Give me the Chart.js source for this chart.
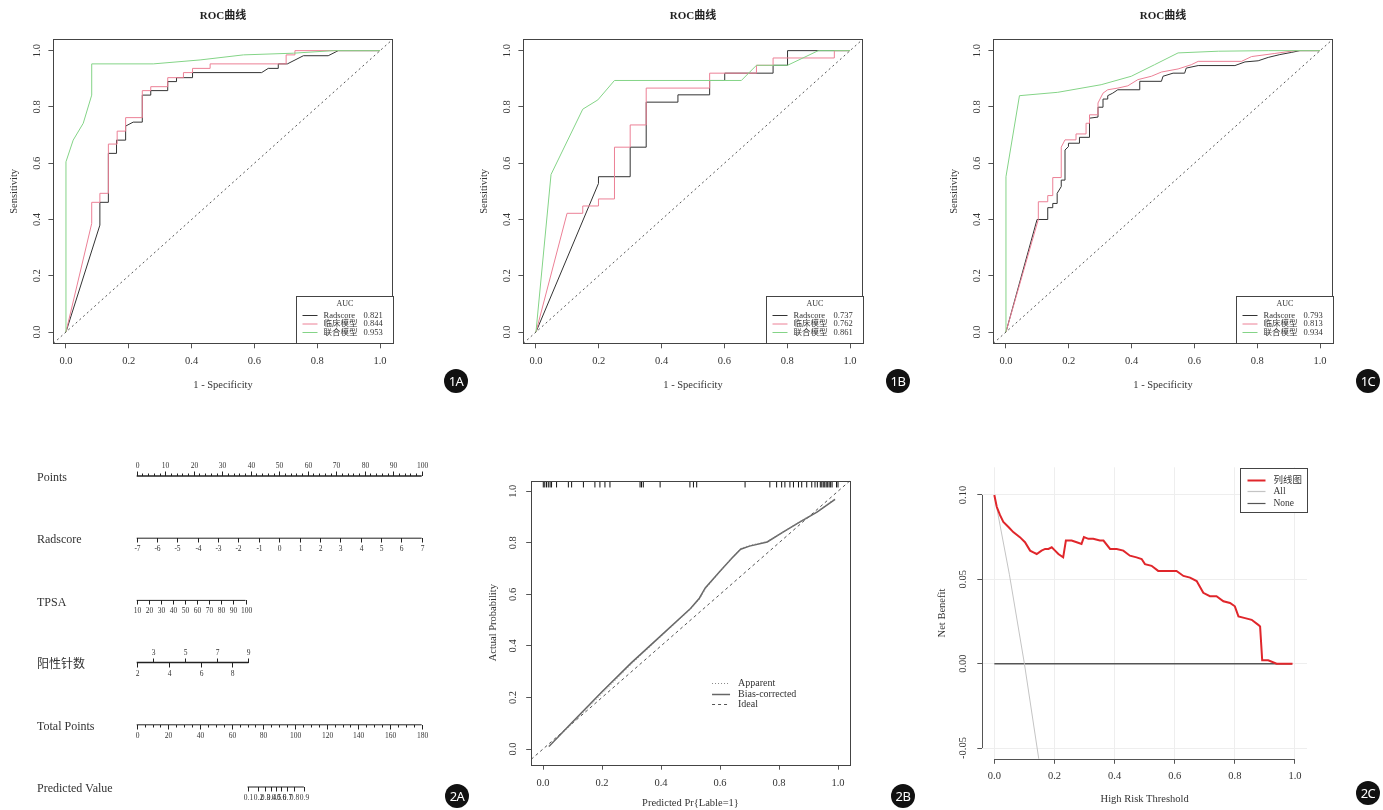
<!DOCTYPE html>
<html lang="zh">
<head>
<meta charset="utf-8">
<title>ROC / Nomogram / Calibration / DCA</title>
<script src="https://cdn.jsdelivr.net/npm/chart.js@4.4.1/dist/chart.umd.min.js"></script>
<style>
  body { margin: 0; width: 1383px; height: 810px; overflow: hidden; background: #fff; position: relative; }
  canvas { position: absolute; }
  .tag { position: absolute; width: 24px; height: 24px; margin: -12px 0 0 -12px; border-radius: 50%; background: #111; color: #fff;
         font: 13px "Noto Sans", sans-serif; line-height: 24px; text-align: center; letter-spacing: -0.5px; }
</style>
</head>
<body>
<canvas id="rocA" width="470" height="400" style="left:0;top:0"></canvas>
<canvas id="rocB" width="470" height="400" style="left:470px;top:0"></canvas>
<canvas id="rocC" width="443" height="400" style="left:940px;top:0"></canvas>
<canvas id="nomo" width="470" height="370" style="left:0;top:440px"></canvas>
<canvas id="calib" width="450" height="370" style="left:470px;top:440px"></canvas>
<canvas id="dca" width="463" height="370" style="left:920px;top:440px"></canvas>
<div class="tag" style="left:456px;top:381px">1A</div>
<div class="tag" style="left:898px;top:381px">1B</div>
<div class="tag" style="left:1368px;top:381px">1C</div>
<div class="tag" style="left:457px;top:796px">2A</div>
<div class="tag" style="left:903px;top:796px">2B</div>
<div class="tag" style="left:1368px;top:793px">2C</div>
<script>
// ---- ROC data (1 - specificity, sensitivity) ----
const rocNames = ['Radscore', '临床模型', '联合模型'];
const rocColors = ['#333333', '#ec8096', '#84d487'];
const unitTicks = [0, 0.2, 0.4, 0.6, 0.8, 1.0];
const rocLim = [-0.04, 1.04];

const radscoreA = [[0,0],[0.108,0.38],[0.108,0.461],[0.135,0.461],[0.135,0.635],[0.161,0.635],[0.161,0.682],[0.19,0.682],[0.19,0.732],[0.214,0.746],[0.243,0.746],[0.243,0.842],[0.27,0.842],[0.27,0.858],[0.324,0.858],[0.324,0.89],[0.352,0.89],[0.352,0.904],[0.403,0.904],[0.403,0.922],[0.623,0.922],[0.644,0.937],[0.676,0.937],[0.676,0.953],[0.705,0.953],[0.756,0.982],[0.835,0.982],[0.867,1],[1,1]];
const clinicalA = [[0,0],[0.082,0.386],[0.082,0.461],[0.108,0.461],[0.108,0.493],[0.135,0.493],[0.135,0.668],[0.163,0.668],[0.163,0.714],[0.19,0.714],[0.19,0.762],[0.243,0.762],[0.243,0.858],[0.27,0.858],[0.27,0.872],[0.324,0.872],[0.324,0.904],[0.374,0.904],[0.374,0.922],[0.403,0.922],[0.403,0.937],[0.459,0.937],[0.459,0.953],[0.701,0.953],[0.701,0.985],[0.729,0.985],[0.729,1],[1,1]];
const combinedA = [[0,0],[0,0.605],[0.023,0.682],[0.055,0.742],[0.082,0.842],[0.082,0.953],[0.278,0.953],[0.427,0.967],[0.565,0.985],[0.724,0.991],[0.851,1],[1,1]];
const aucA = [0.821, 0.844, 0.953];

const radscoreB = [[0,0],[0.199,0.528],[0.199,0.552],[0.3,0.552],[0.3,0.657],[0.351,0.657],[0.351,0.817],[0.452,0.817],[0.452,0.843],[0.553,0.843],[0.553,0.894],[0.601,0.894],[0.601,0.92],[0.755,0.92],[0.755,0.948],[0.801,0.948],[0.801,1],[1,1]];
const clinicalB = [[0,0],[0.099,0.422],[0.149,0.422],[0.149,0.448],[0.199,0.448],[0.199,0.473],[0.25,0.473],[0.25,0.657],[0.3,0.657],[0.3,0.736],[0.351,0.736],[0.351,0.867],[0.553,0.867],[0.553,0.92],[0.702,0.92],[0.702,0.948],[0.755,0.948],[0.755,0.974],[0.95,0.974],[0.95,1],[1,1]];
const combinedB = [[0,0],[0.048,0.56],[0.149,0.792],[0.197,0.825],[0.25,0.894],[0.654,0.894],[0.702,0.948],[0.801,0.948],[0.899,1],[1,1]];
const aucB = [0.737, 0.762, 0.861];

const radscoreC = [[0,0],[0.099,0.4],[0.133,0.4],[0.133,0.442],[0.149,0.442],[0.149,0.457],[0.163,0.457],[0.163,0.493],[0.176,0.517],[0.176,0.54],[0.188,0.54],[0.188,0.647],[0.199,0.659],[0.199,0.671],[0.234,0.671],[0.234,0.692],[0.266,0.692],[0.266,0.76],[0.293,0.764],[0.293,0.799],[0.309,0.799],[0.309,0.828],[0.324,0.828],[0.324,0.84],[0.34,0.849],[0.356,0.861],[0.426,0.861],[0.426,0.891],[0.495,0.891],[0.5,0.909],[0.532,0.92],[0.569,0.92],[0.574,0.938],[0.612,0.947],[0.729,0.947],[0.761,0.96],[0.803,0.964],[0.835,0.976],[0.872,0.986],[0.91,0.994],[0.936,1],[1,1]];
const clinicalC = [[0,0],[0.103,0.4],[0.103,0.463],[0.133,0.463],[0.133,0.485],[0.149,0.485],[0.149,0.549],[0.176,0.549],[0.176,0.657],[0.188,0.683],[0.223,0.683],[0.223,0.704],[0.255,0.704],[0.255,0.742],[0.266,0.742],[0.266,0.772],[0.293,0.772],[0.293,0.814],[0.309,0.849],[0.324,0.861],[0.356,0.867],[0.388,0.875],[0.42,0.897],[0.463,0.909],[0.495,0.924],[0.548,0.935],[0.59,0.95],[0.612,0.962],[0.75,0.962],[0.782,0.979],[0.856,0.99],[0.92,1],[1,1]];
const combinedC = [[0,0],[0,0.552],[0.043,0.84],[0.165,0.852],[0.303,0.879],[0.399,0.909],[0.473,0.95],[0.548,0.992],[0.676,0.998],[0.835,1],[1,1]];
const aucC = [0.793, 0.813, 0.934];

// ---- nomogram (2A) ----
const nomoNames = ['Points', 'Radscore', 'TPSA', '阳性针数', 'Total Points', 'Predicted Value'];
const pointsTicks = [0, 10, 20, 30, 40, 50, 60, 70, 80, 90, 100];
const radscoreTicks = [-7, -6, -5, -4, -3, -2, -1, 0, 1, 2, 3, 4, 5, 6, 7];
const tpsaTicks = [10, 20, 30, 40, 50, 60, 70, 80, 90, 100];
const tpsaMaxPoints = 38.2;
const needleTicks = [2, 3, 4, 5, 6, 7, 8, 9];
const needleMaxPoints = 39.2;
const totalTicks = [0, 20, 40, 60, 80, 100, 120, 140, 160, 180];
const predTicks = [0.1, 0.2, 0.3, 0.4, 0.5, 0.6, 0.7, 0.8, 0.9];
const predTotalPoints = [70, 76.5, 81, 84.7, 88, 91.2, 94.7, 99.1, 105.6];

// ---- calibration (2B) ----
const calX = [0.02, 0.1, 0.2, 0.3, 0.4, 0.5, 0.53, 0.55, 0.6, 0.64, 0.67, 0.7, 0.76, 0.815, 0.87, 0.93, 0.99];
const biasY = [0.01, 0.105, 0.222, 0.335, 0.44, 0.545, 0.585, 0.625, 0.69, 0.74, 0.775, 0.787, 0.803, 0.842, 0.88, 0.92, 0.968];
const apparentY = [0.01, 0.1, 0.215, 0.33, 0.437, 0.542, 0.58, 0.62, 0.688, 0.742, 0.778, 0.79, 0.805, 0.843, 0.882, 0.922, 0.972];
const rugX = [0.001, 0.006, 0.012, 0.018, 0.024, 0.029, 0.046, 0.086, 0.097, 0.137, 0.176, 0.193, 0.21, 0.227, 0.329, 0.334, 0.34, 0.397, 0.498, 0.51, 0.521, 0.685, 0.769, 0.792, 0.809, 0.82, 0.837, 0.849, 0.866, 0.877, 0.894, 0.911, 0.922, 0.93, 0.94, 0.945, 0.95, 0.955, 0.96, 0.965, 0.97, 0.975, 0.98, 0.995, 1.0];
const calNames = ['Apparent', 'Bias-corrected', 'Ideal'];

// ---- decision curve (2C) ----
const netX = [0,0.008,0.019,0.03,0.047,0.063,0.085,0.102,0.119,0.13,0.141,0.157,0.169,0.18,0.191,0.202,0.213,0.229,0.238,0.257,0.274,0.29,0.298,0.313,0.329,0.351,0.363,0.385,0.407,0.429,0.451,0.473,0.49,0.501,0.523,0.545,0.562,0.606,0.629,0.651,0.673,0.695,0.717,0.739,0.762,0.784,0.8,0.812,0.834,0.856,0.878,0.884,0.891,0.911,0.939,0.992];
const netY = [0.1,0.093,0.088,0.084,0.081,0.078,0.075,0.072,0.067,0.066,0.065,0.067,0.068,0.068,0.069,0.067,0.065,0.063,0.073,0.073,0.072,0.071,0.075,0.074,0.074,0.073,0.073,0.068,0.068,0.067,0.064,0.063,0.062,0.059,0.058,0.055,0.055,0.055,0.052,0.051,0.049,0.042,0.04,0.04,0.037,0.036,0.034,0.028,0.027,0.026,0.023,0.022,0.002,0.002,0.0,0.0];
const allX = [0, 0.05, 0.1, 0.15, 0.2];
const allY = [0.1, 0.053, 0, -0.059, -0.125];
const noneX = [0, 0.99];
const noneY = [0, 0];
const dcaXTicks = [0, 0.2, 0.4, 0.6, 0.8, 1.0];
const dcaYTicks = [-0.05, 0, 0.05, 0.10];
const dcaNames = ['列线图', 'All', 'None'];
const dcaColors = ['#e0262b', '#c4c4c4', '#555555'];

// ---------------------------------------------------------------
const serif = '"Liberation Serif", "Noto Sans CJK SC", serif';
Chart.defaults.font.family = serif;
Chart.defaults.color = '#333';
Chart.defaults.animation = false;
Chart.defaults.responsive = false;
Chart.defaults.plugins.legend.display = false;
Chart.defaults.plugins.tooltip.enabled = false;
Chart.defaults.elements.point.radius = 0;
Chart.defaults.elements.line.borderWidth = 1;
Chart.defaults.elements.line.tension = 0;

const xy = arr => arr.map(([x, y]) => ({ x, y }));
const zip = (xs, ys) => xs.map((x, i) => ({ x, y: ys[i] }));

function axis(o) {
  return {
    type: 'linear', min: o.lim[0], max: o.lim[1],
    afterBuildTicks: s => { s.ticks = o.ticks.map(v => ({ value: v })); },
    afterFit: s => { if (s.isHorizontal()) s.height = o.size; else s.width = o.size; },
    grid: { display: true, drawOnChartArea: !!o.gridColor, color: o.gridColor || '#555', tickColor: '#555', tickLength: 5, lineWidth: 1 },
    border: { display: false },
    ticks: {
      autoSkip: false, padding: o.pad, color: '#333', font: { size: 10.5 },
      minRotation: o.rot || 0, maxRotation: o.rot || 0, crossAlign: o.rot ? 'center' : 'near',
      callback: v => v.toFixed(o.dec)
    },
    title: { display: true, text: o.title, color: '#333', font: { size: 10.5 }, padding: o.titlePad }
  };
}

// box round the plot region
const frame = {
  id: 'frame',
  afterDatasetsDraw(chart) {
    const { ctx, chartArea: a } = chart;
    ctx.save();
    ctx.strokeStyle = '#444';
    ctx.lineWidth = 1;
    ctx.strokeRect(Math.round(a.left) + 0.5, Math.round(a.top) + 0.5, Math.round(a.right - a.left), Math.round(a.bottom - a.top));
    ctx.restore();
  }
};

const aucLegend = {
  id: 'aucLegend',
  afterDraw(chart, args, opts) {
    const { ctx, chartArea: a } = chart;
    const w = 97, h = 47;
    const l = Math.round(a.right - w) + 0.5, t = Math.round(a.bottom - h) + 0.5;
    ctx.save();
    ctx.fillStyle = '#fff';
    ctx.fillRect(l, t, w, h);
    ctx.strokeStyle = '#444';
    ctx.strokeRect(l, t, w, h);
    ctx.fillStyle = '#333';
    ctx.textBaseline = 'middle';
    ctx.textAlign = 'center';
    ctx.font = '8px ' + serif;
    ctx.fillText('AUC', l + w / 2, t + 7);
    ctx.textAlign = 'left';
    ctx.font = '8.5px ' + serif;
    opts.names.forEach((n, i) => {
      const yy = t + 19 + i * 8.5;
      ctx.strokeStyle = opts.colors[i];
      ctx.beginPath(); ctx.moveTo(l + 6, yy); ctx.lineTo(l + 21, yy); ctx.stroke();
      ctx.fillText(n, l + 27, yy);
      ctx.fillText(opts.aucs[i].toFixed(3), l + 67, yy);
    });
    ctx.restore();
  }
};

function drawRoc(id, width, curves, aucs) {
  new Chart(document.getElementById(id), {
    type: 'line',
    data: {
      datasets: [
        ...curves.map((c, i) => ({ label: rocNames[i], data: xy(c), borderColor: rocColors[i] })).reverse(),
        { label: 'ref', data: xy([[rocLim[0], rocLim[0]], [rocLim[1], rocLim[1]]]), borderColor: '#555', borderDash: [2, 3] }
      ]
    },
    options: {
      layout: { padding: { left: 4, right: width - 392.6, top: 0, bottom: 0 } },
      plugins: {
        title: { display: true, text: 'ROC曲线', fullSize: false, color: '#222', font: { size: 11, weight: 'bold' }, padding: { top: 9.5, bottom: 16.7 } },
        aucLegend: { names: rocNames, colors: rocColors, aucs: aucs }
      },
      scales: {
        x: axis({ lim: rocLim, ticks: unitTicks, dec: 1, size: 56.7, pad: 6.4, title: '1 - Specificity', titlePad: { top: 0, bottom: 8.7 } }),
        y: axis({ lim: rocLim, ticks: unitTicks, dec: 1, size: 49.4, pad: 4.8, rot: 90, title: 'Sensitivity', titlePad: { top: 3.7, bottom: 0 } })
      }
    },
    plugins: [frame, aucLegend]
  });
}

drawRoc('rocA', 470, [radscoreA, clinicalA, combinedA], aucA);
drawRoc('rocB', 470, [radscoreB, clinicalB, combinedB], aucB);
drawRoc('rocC', 443, [radscoreC, clinicalC, combinedC], aucC);

// ---- 2A nomogram: x = points (0-100), y = row index ----
const totalMax = totalTicks[totalTicks.length - 1];
const span = (v, lo, hi, maxPts) => (v - lo) / (hi - lo) * maxPts;
const nomoRows = [
  { vals: pointsTicks, pos: pointsTicks, side: () => -1, width: 1.5, minorStep: 2, minorMax: 100 },
  { vals: radscoreTicks, pos: radscoreTicks.map(v => span(v, -7, 7, 100)), side: () => 1 },
  { vals: tpsaTicks, pos: tpsaTicks.map(v => span(v, 10, 100, tpsaMaxPoints)), side: () => 1 },
  { vals: needleTicks, pos: needleTicks.map(v => span(v, 2, 9, needleMaxPoints)), side: v => (v % 2 ? -1 : 1), width: 1.5 },
  { vals: totalTicks, pos: totalTicks.map(v => v / totalMax * 100), side: () => 1, minorStep: 5 * 100 / totalMax, minorMax: 100 },
  { vals: predTicks, pos: predTotalPoints.map(v => v / totalMax * 100), side: () => 1 }
];

const nomoPlugin = {
  id: 'nomo',
  afterDatasetsDraw(chart) {
    const { ctx, scales: { x, y } } = chart;
    ctx.save();
    ctx.fillStyle = '#333';
    ctx.textBaseline = 'middle';
    ctx.textAlign = 'left';
    ctx.font = '12px ' + serif;
    nomoNames.forEach((n, i) => ctx.fillText(n, 37, y.getPixelForValue(i) + 2));
    ctx.strokeStyle = '#222';
    ctx.lineWidth = 1;
    ctx.textAlign = 'center';
    ctx.font = '7.5px ' + serif;
    nomoRows.forEach((r, i) => {
      const py = Math.round(y.getPixelForValue(i));
      ctx.beginPath();
      if (r.minorStep) {
        for (let p = 0; p <= r.minorMax + 1e-9; p += r.minorStep) {
          const px = Math.round(x.getPixelForValue(p)) + 0.5;
          ctx.moveTo(px, py); ctx.lineTo(px, py + r.side(0) * 2.5);
        }
      }
      r.pos.forEach((p, k) => {
        const px = Math.round(x.getPixelForValue(p)) + 0.5;
        const d = r.side(r.vals[k]);
        ctx.moveTo(px, py); ctx.lineTo(px, py + d * 4.5);
        ctx.fillText(String(r.vals[k]), px, py + (d < 0 ? -10 : 11));
      });
      ctx.stroke();
    });
    ctx.restore();
  }
};

new Chart(document.getElementById('nomo'), {
  type: 'line',
  data: {
    datasets: nomoRows.map((r, i) => ({
      data: [{ x: r.pos[0], y: i }, { x: r.pos[r.pos.length - 1], y: i }],
      borderColor: '#222', borderWidth: r.width || 1, clip: false
    }))
  },
  options: {
    layout: { padding: { left: 136.7, right: 48.3, top: 36, bottom: 23 } },
    scales: {
      x: { type: 'linear', display: false, min: 0, max: 100 },
      y: { type: 'linear', display: false, min: 0, max: nomoNames.length - 1, reverse: true }
    }
  },
  plugins: [nomoPlugin]
});

// ---- 2B calibration ----
const calLegend = {
  id: 'calLegend',
  afterDraw(chart) {
    const { ctx, scales: { x, y } } = chart;
    const lx = x.getPixelForValue(0.573), ly = y.getPixelForValue(0.256);
    const dashes = [[1, 2], [], [3, 3]];
    const colors = ['#888', '#666', '#555'];
    const widths = [1, 1.5, 1];
    ctx.save();
    ctx.font = '10px ' + serif;
    ctx.fillStyle = '#333';
    ctx.textBaseline = 'middle';
    calNames.forEach((n, i) => {
      const yy = Math.round(ly + i * 10.5) + 0.5;
      ctx.strokeStyle = colors[i]; ctx.lineWidth = widths[i]; ctx.setLineDash(dashes[i]);
      ctx.beginPath(); ctx.moveTo(lx, yy); ctx.lineTo(lx + 18, yy); ctx.stroke();
      ctx.fillText(n, lx + 26, yy);
    });
    ctx.restore();
  }
};

new Chart(document.getElementById('calib'), {
  type: 'line',
  data: {
    datasets: [
      { label: 'rug', data: rugX.map(v => ({ x: v, y: 1.027 })), showLine: false, pointStyle: 'line', pointRotation: 90, pointRadius: 3.2, pointBorderColor: '#111', pointBorderWidth: 1, clip: false },
      { label: 'Apparent', data: zip(calX, apparentY), borderColor: '#888', borderDash: [1, 2] },
      { label: 'Bias-corrected', data: zip(calX, biasY), borderColor: '#666', borderWidth: 1.5 },
      { label: 'Ideal', data: xy([[-0.04, -0.04], [1.04, 1.04]]), borderColor: '#555', borderDash: [3, 3] }
    ]
  },
  options: {
    layout: { padding: { left: 10, right: 70.2, top: 40.7, bottom: 0 } },
    scales: {
      x: axis({ lim: [-0.04, 1.04], ticks: unitTicks, dec: 1, size: 45.3, pad: 7, title: 'Predicted Pr{Lable=1}', titlePad: { top: 0, bottom: 0.7 } }),
      y: axis({ lim: [-0.0608, 1.0408], ticks: unitTicks, dec: 1, size: 51.2, pad: 6.6, rot: 90, title: 'Actual Probability', titlePad: { top: 6.7, bottom: 0 } })
    }
  },
  plugins: [frame, calLegend]
});

// ---- 2C decision curve ----
const dcaAxes = {
  id: 'dcaAxes',
  beforeDatasetsDraw(chart) {
    const { ctx, chartArea: a, scales: { x, y } } = chart;
    const lx = Math.round(a.left) + 0.5, by = Math.round(a.bottom) + 0.5;
    ctx.save();
    ctx.strokeStyle = '#555';
    ctx.lineWidth = 1;
    ctx.beginPath();
    ctx.moveTo(lx, y.getPixelForValue(dcaYTicks[0]));
    ctx.lineTo(lx, y.getPixelForValue(dcaYTicks[dcaYTicks.length - 1]));
    ctx.moveTo(x.getPixelForValue(dcaXTicks[0]), by);
    ctx.lineTo(x.getPixelForValue(dcaXTicks[dcaXTicks.length - 1]), by);
    ctx.stroke();
    ctx.restore();
  }
};

const dcaLegend = {
  id: 'dcaLegend',
  afterDraw(chart) {
    const { ctx, chartArea: a } = chart;
    const w = 67, h = 44;
    const l = Math.round(a.right - w) + 0.5, t = Math.round(a.top) + 1.5;
    ctx.save();
    ctx.fillStyle = '#fff';
    ctx.fillRect(l, t, w, h);
    ctx.strokeStyle = '#444';
    ctx.lineWidth = 1;
    ctx.strokeRect(l, t, w, h);
    ctx.fillStyle = '#333';
    ctx.font = '9.5px ' + serif;
    ctx.textBaseline = 'middle';
    dcaNames.forEach((n, i) => {
      const yy = Math.round(t + 11 + i * 11.5) + 0.5;
      ctx.strokeStyle = dcaColors[i];
      ctx.lineWidth = i === 0 ? 2 : 1.2;
      ctx.beginPath(); ctx.moveTo(l + 7, yy); ctx.lineTo(l + 25, yy); ctx.stroke();
      ctx.fillText(n, l + 33, yy);
    });
    ctx.restore();
  }
};

new Chart(document.getElementById('dca'), {
  type: 'line',
  data: {
    datasets: [
      { label: dcaNames[0], data: zip(netX, netY), borderColor: dcaColors[0], borderWidth: 2 },
      { label: dcaNames[1], data: zip(allX, allY), borderColor: dcaColors[1], borderWidth: 1 },
      { label: dcaNames[2], data: zip(noneX, noneY), borderColor: dcaColors[2], borderWidth: 1.5 }
    ]
  },
  options: {
    layout: { padding: { left: 10, right: 76, top: 27.3, bottom: 0 } },
    scales: {
      x: axis({ lim: [-0.04, 1.04], ticks: dcaXTicks, dec: 1, size: 51.2, pad: 5.9, title: 'High Risk Threshold', titlePad: { top: 0, bottom: 4.7 }, gridColor: '#eeeeee' }),
      y: axis({ lim: [-0.0564, 0.1164], ticks: dcaYTicks, dec: 2, size: 52.3, pad: 3.3, rot: 90, title: 'Net Benefit', titlePad: { top: 5.7, bottom: 0 }, gridColor: '#eeeeee' })
    }
  },
  plugins: [dcaAxes, dcaLegend]
});
</script>
</body>
</html>
